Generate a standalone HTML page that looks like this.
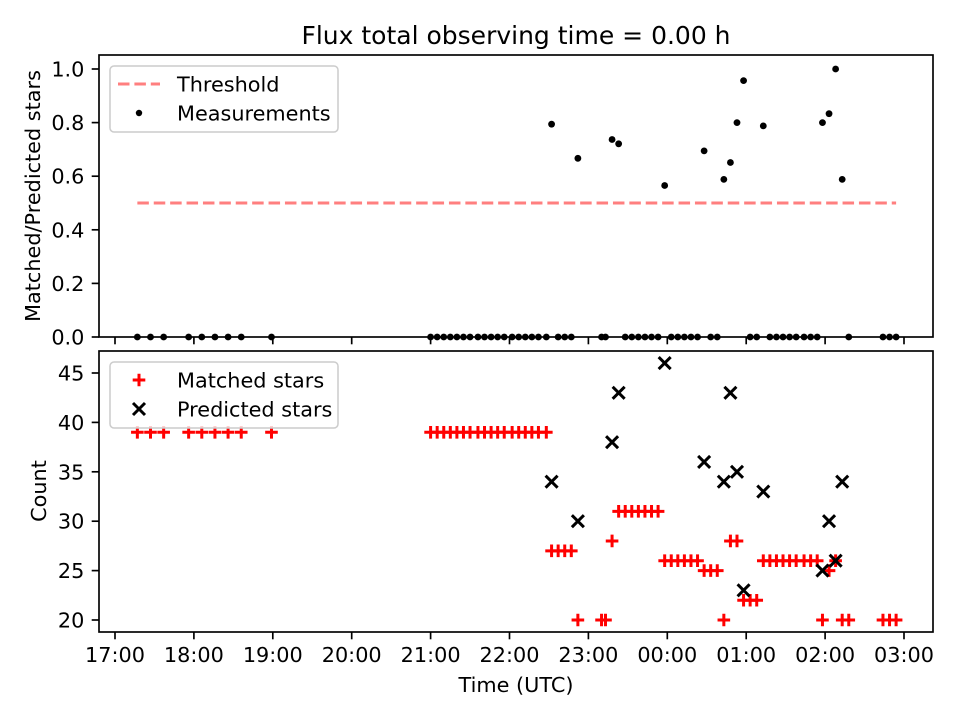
<!DOCTYPE html>
<html><head><meta charset="utf-8"><style>
body{margin:0;background:#fff}
svg{display:block;font-family:"DejaVu Sans","Liberation Sans",sans-serif}
</style></head><body>
<svg id="chart" width="960" height="720" viewBox="0 0 960 720">
<rect width="960" height="720" fill="#fff"/>
<text x="516" y="44" font-size="25" text-anchor="middle">Flux total observing time = 0.00 h</text>
<g id="topPanel"></g>
<g id="botPanel"></g>
<text x="516" y="692" font-size="20.8" text-anchor="middle">Time (UTC)</text>
<text transform="translate(40,196) rotate(-90)" font-size="20.8" text-anchor="middle">Matched/Predicted stars</text>
<text transform="translate(46,491) rotate(-90)" font-size="20.8" text-anchor="middle">Count</text>
</svg>
<script>
// minutes since 17:00 UTC
const times = [17,27,37,56,66,76,86,96,119,
240,245,250,255,260,265,270,276,281,286,291,296,302,307,312,317,322,328,
332,337,342,347,352,370,373,378,383,388,393,398,403,408,413,
418,423,428,433,438,443,448,453,458,463,468,473,478,483,488,
493,498,503,508,513,518,524,529,534,538,543,548,553,558,584,589,594];
const matched = [39,39,39,39,39,39,39,39,39,
39,39,39,39,39,39,39,39,39,39,39,39,39,39,39,39,39,39,
27,27,27,27,20,20,20,28,31,31,31,31,31,31,31,
26,26,26,26,26,26,25,25,25,20,28,28,22,22,22,
26,26,26,26,26,26,26,26,26,20,25,26,20,20,20,20,20];
const predicted = [null,null,null,null,null,null,null,null,null,
null,null,null,null,null,null,null,null,null,null,null,null,null,null,null,null,null,null,
34,null,null,null,30,null,null,38,43,null,null,null,null,null,null,
46,null,null,null,null,null,36,null,null,34,43,35,23,null,null,
33,null,null,null,null,null,null,null,null,25,30,26,34,null,null,null,null];
const ratio = predicted.map((p,i)=> p ? matched[i]/p : 0);
const threshold = 0.5;
const xTickLabels = ["17:00","18:00","19:00","20:00","21:00","22:00","23:00","00:00","01:00","02:00","03:00"];
const topTicks = [0,0.2,0.4,0.6,0.8,1.0];
const botTicks = [20,25,30,35,40,45];

const NS="http://www.w3.org/2000/svg";
const L=99,R=933;
const FS=20.8, LW=1.67;
const x = m => 115 + m/60*78.9;
const yT = v => 337 - v*268;
const yB = v => 620 - (v-20)*9.88;
function mk(tag,at,parent){const e=document.createElementNS(NS,tag);for(const k in at)e.setAttribute(k,at[k]);parent.appendChild(e);return e;}
const topG=document.getElementById('topPanel'), botG=document.getElementById('botPanel');

function frame(g,y0,y1,ticks,ymap,fmt,labelsX,name){
  xTickLabels.forEach((lab,i)=>{
    const xx=x(i*60);
    const t=mk('line',{x1:xx,x2:xx,y1:y1,y2:y1+7.3,stroke:'#000','stroke-width':LW},g);
    
    
    if(labelsX){const tx=mk('text',{x:xx,y:y1+30,'font-size':FS,'text-anchor':'middle'},g);tx.textContent=lab;
      
      }
  });
  ticks.forEach(v=>{
    const yy=ymap(v);
    const t=mk('line',{x1:L-7.3,x2:L,y1:yy,y2:yy,stroke:'#000','stroke-width':LW},g);
    
    
    const tx=mk('text',{x:L-14.6,y:yy+7.5,'font-size':FS,'text-anchor':'end'},g);tx.textContent=fmt(v);
    
    
  });
}
function box(g,y0,y1,name){const r=mk('rect',{x:L,y:y0,width:R-L,height:y1-y0,fill:'none',stroke:'#000','stroke-width':LW},g);
  
  }

const plus=(cx,cy)=>`M${cx-6.3},${cy}H${cx+6.3}M${cx},${cy-6.3}V${cy+6.3}`;
const cross=(cx,cy)=>`M${cx-6},${cy-6}L${cx+6},${cy+6}M${cx-6},${cy+6}L${cx+6},${cy-6}`;

// top panel
frame(topG,55,337,topTicks,yT,v=>v.toFixed(1),false,'top');
const th=mk('line',{x1:x(times[0]),x2:x(times[times.length-1]),y1:yT(threshold),y2:yT(threshold),stroke:'#ff7f7f','stroke-width':3,'stroke-dasharray':'11.5,4.9'},topG);


times.forEach((t,i)=>{
  const c=mk('circle',{cx:x(t),cy:yT(ratio[i]),r:3.4,fill:'#000'},topG);
  
  
});
box(topG,55,337,'top');

// bottom panel
frame(botG,351,632,botTicks,yB,v=>String(v),true,'bottom');
times.forEach((t,i)=>{
  const p=mk('path',{d:plus(x(t),yB(matched[i])),stroke:'#f00','stroke-width':3},botG);
  
  
});
times.forEach((t,i)=>{
  if(predicted[i]==null)return;
  const p=mk('path',{d:cross(x(t),yB(predicted[i])),stroke:'#000','stroke-width':3},botG);
  
  
});
box(botG,351,632,'bottom');

// legends
function legend(g,y0,entries,name){
  const lg=mk('g',{},g);
  
  
  mk('rect',{x:110,y:y0,width:228,height:66,rx:4,fill:'#fff','fill-opacity':0.8,stroke:'#ccc','stroke-width':1.5},lg);
  entries.forEach((e,i)=>{
    const yy=y0+18+i*29;
    e.draw(lg,139,yy);
    const t=mk('text',{x:177,y:yy+7.3,'font-size':FS},lg);t.textContent=e.label;
    
    
  });
}
legend(topG,66,[
  {label:'Threshold',draw:(g,cx,cy)=>mk('line',{x1:118,x2:160,y1:cy,y2:cy,stroke:'#ff7f7f','stroke-width':3,'stroke-dasharray':'11.5,4.9'},g)},
  {label:'Measurements',draw:(g,cx,cy)=>mk('circle',{cx:cx,cy:cy,r:3.2,fill:'#000'},g)}
],'top-legend');
legend(botG,362,[
  {label:'Matched stars',draw:(g,cx,cy)=>mk('path',{d:plus(cx,cy),stroke:'#f00','stroke-width':3},g)},
  {label:'Predicted stars',draw:(g,cx,cy)=>mk('path',{d:cross(cx,cy),stroke:'#000','stroke-width':3},g)}
],'bottom-legend');
</script>
</body></html>
